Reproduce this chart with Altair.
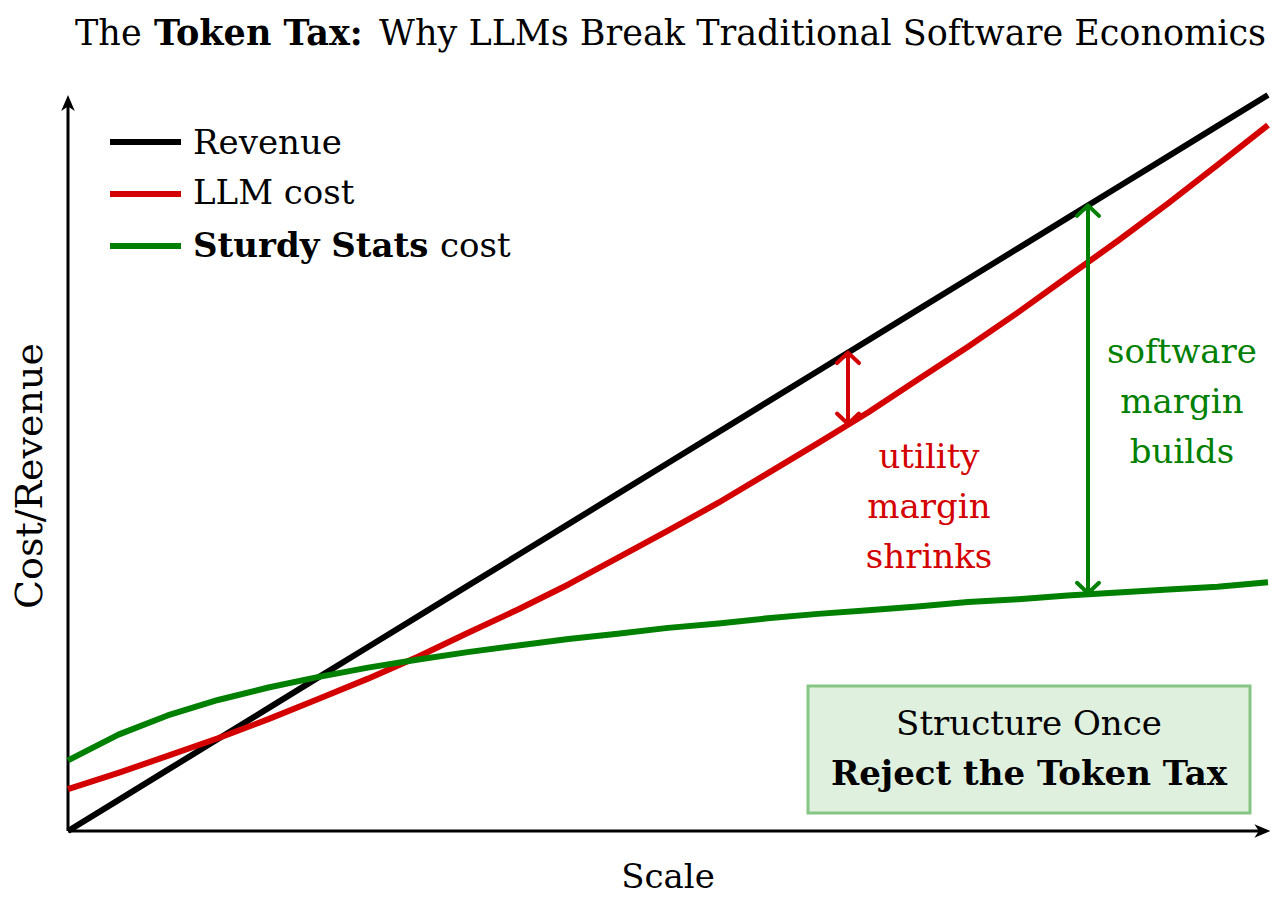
import altair as alt
import pandas as pd

# ---------------- data ----------------
scale_x = [0.0, 0.42, 0.83, 1.25, 1.67, 2.08, 2.5, 2.92, 3.33, 3.75, 4.17, 4.58,
           5.0, 5.42, 5.83, 6.25, 6.67, 7.08, 7.5, 7.92, 8.33, 8.75, 9.17, 9.58, 10.0]
revenue = [0.0, 0.42, 0.83, 1.25, 1.67, 2.08, 2.5, 2.92, 3.33, 3.75, 4.17, 4.58,
           5.0, 5.42, 5.83, 6.25, 6.67, 7.08, 7.5, 7.92, 8.33, 8.75, 9.17, 9.58, 10.0]
llm_cost = [0.57, 0.79, 1.02, 1.26, 1.52, 1.79, 2.07, 2.37, 2.69, 3.01, 3.35, 3.71,
            4.08, 4.46, 4.86, 5.27, 5.69, 6.13, 6.58, 7.05, 7.53, 8.02, 8.53, 9.05, 9.59]
sturdy_cost = [0.96, 1.31, 1.57, 1.78, 1.95, 2.09, 2.22, 2.33, 2.43, 2.52, 2.61, 2.68,
               2.76, 2.82, 2.89, 2.95, 3.00, 3.05, 3.11, 3.15, 3.20, 3.24, 3.28, 3.32, 3.38]

# margin arrows: position on Scale, top (revenue) and bottom (cost)
margin_x = [6.5, 8.5]
margin_top = [6.5, 8.5]
margin_bottom = [5.53, 3.23]

legend_labels = ["Revenue", "LLM cost", "Sturdy Stats", "cost"]
title_parts = ["The", "Token Tax:", "Why LLMs Break Traditional Software Economics"]
utility_text = ["utility", "margin", "shrinks"]
software_text = ["software", "margin", "builds"]
box_text = ["Structure Once", "Reject the Token Tax"]

# ---------------- styling ----------------
RED = "#d40000"
GREEN = "#008000"
BLACK = "#000000"
BOX_FILL = "#dff0df"
BOX_STROKE = "#85c685"
FONT = "DejaVu Serif"
FS = 34

X_DOM = [-68 / 120, 1212 / 120]
Y_DOM = [-73 / 73.6, 831 / 73.6]
xs = alt.Scale(domain=X_DOM, nice=False, zero=False)
ys = alt.Scale(domain=Y_DOM, nice=False, zero=False)


def X(f):
    return alt.X(f, type="quantitative", scale=xs, axis=None)


def Y(f):
    return alt.Y(f, type="quantitative", scale=ys, axis=None)


layers = []

# axes (lines + arrow heads)
axes_df = pd.DataFrame({"x": [0.0], "y": [0.0], "xe": [9.93], "ye": [9.86], "xt": [10.02], "yt": [10.0]})
layers.append(alt.Chart(axes_df).mark_rule(color=BLACK, strokeWidth=3).encode(
    x=X("x"), x2="xe", y=Y("y")))
layers.append(alt.Chart(axes_df).mark_rule(color=BLACK, strokeWidth=3).encode(
    x=X("x"), y=Y("y"), y2="ye"))
layers.append(alt.Chart(axes_df).mark_point(
    shape="M 0 0 L -2 -0.85 L -1.45 0 L -2 0.85 Z", filled=True, size=256,
    color=BLACK, opacity=1, strokeWidth=0).encode(x=X("xt"), y=Y("y")))
layers.append(alt.Chart(axes_df).mark_point(
    shape="M 0 0 L -0.85 2 L 0 1.45 L 0.85 2 Z", filled=True, size=256,
    color=BLACK, opacity=1, strokeWidth=0).encode(x=X("x"), y=Y("yt")))

# series lines
df = pd.DataFrame({"x": scale_x, "rev": revenue, "llm": llm_cost, "sturdy": sturdy_cost})
for col, colr in [("rev", BLACK), ("llm", RED), ("sturdy", GREEN)]:
    layers.append(alt.Chart(df).mark_line(color=colr, strokeWidth=6, strokeJoin="round").encode(
        x=X("x"), y=Y(col)))

# margin arrows
arr_df = pd.DataFrame({"x": margin_x, "top": margin_top, "bot": margin_bottom,
                       "kind": ["utility", "software"]})
for i, colr in enumerate([RED, GREEN]):
    sub = arr_df.iloc[[i]]
    layers.append(alt.Chart(sub).mark_rule(color=colr, strokeWidth=4).encode(
        x=X("x"), y=Y("top"), y2="bot"))
    layers.append(alt.Chart(sub).mark_point(
        shape="M -1 0.95 L 0 0 L 1 0.95", filled=False, size=484, color=colr, opacity=1,
        strokeWidth=4, strokeCap="round", strokeJoin="round").encode(x=X("x"), y=Y("top")))
    layers.append(alt.Chart(sub).mark_point(
        shape="M -1 -0.95 L 0 0 L 1 -0.95", filled=False, size=484, color=colr, opacity=1,
        strokeWidth=4, strokeCap="round", strokeJoin="round").encode(x=X("x"), y=Y("bot")))

one = pd.DataFrame({"k": [0]})


def text_layer(txt, x, y, color=BLACK, weight="normal", align="left", angle=0, size=FS, lh=50):
    return alt.Chart(one).mark_text(
        text=txt, font=FONT, fontSize=size, fontWeight=weight, color=color,
        align=align, baseline="alphabetic", angle=angle, lineHeight=lh).encode(
        x=alt.value(x), y=alt.value(y))


# annotation texts
layers.append(text_layer(utility_text, 929, 468, color=RED, align="center"))
layers.append(text_layer(software_text, 1182, 363, color=GREEN, align="center"))

# box
layers.append(alt.Chart(one).mark_rect(fill=BOX_FILL, stroke=BOX_STROKE, strokeWidth=3).encode(
    x=alt.value(808), x2=alt.value(1250), y=alt.value(686), y2=alt.value(813)))
layers.append(text_layer(box_text[0], 1029, 735, align="center"))
layers.append(text_layer(box_text[1], 1029, 785, weight="bold", align="center"))

# legend
for (yl, colr) in [(142, BLACK), (194, RED), (246, GREEN)]:
    layers.append(alt.Chart(one).mark_rule(color=colr, strokeWidth=6).encode(
        x=alt.value(110), x2=alt.value(181), y=alt.value(yl)))
layers.append(text_layer(legend_labels[0], 193, 154))
layers.append(text_layer(legend_labels[1], 193, 204))
layers.append(text_layer(legend_labels[2], 193, 257, weight="bold"))
layers.append(text_layer(legend_labels[3], 440, 257))

# title
layers.append(text_layer(title_parts[0], 75, 45, size=35))
layers.append(text_layer(title_parts[1], 154, 45, weight="bold", size=35))
layers.append(text_layer(title_parts[2], 1266, 45, align="right", size=35))

# axis titles
layers.append(text_layer("Scale", 668, 888, align="center"))
layers.append(text_layer("Cost/Revenue", 42, 476, align="center", angle=270, size=38))

chart = alt.layer(*layers).properties(
    width=1280, height=904, padding=0,
    autosize=alt.AutoSizeParams(type="none"),
    background="white",
).configure_view(stroke=None)

chart.save("out.html", embed_options={"renderer": "svg", "actions": False})
